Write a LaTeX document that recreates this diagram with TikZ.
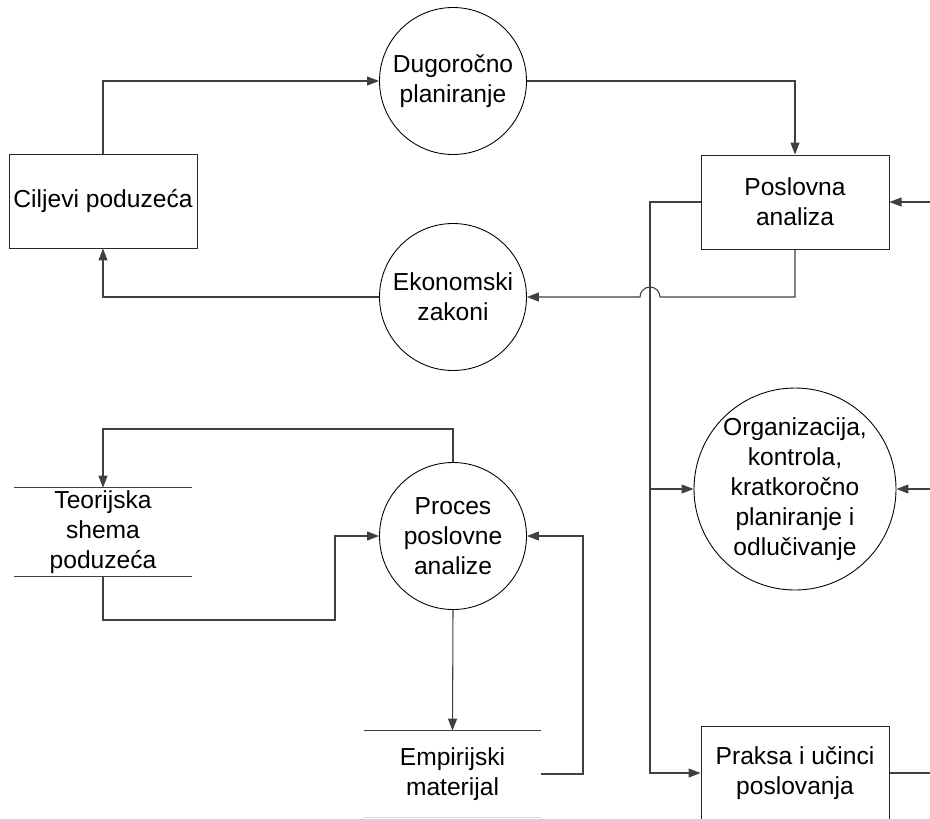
\documentclass[tikz,border=0pt]{standalone}
\usepackage{fontspec}
\setmainfont{Liberation Sans}
\usetikzlibrary{arrows.meta,positioning,calc}
\definecolor{linija}{RGB}{64,64,64}

\tikzset{
  tekst/.style={font=\fontsize{14}{17}\selectfont,align=center},
  krug/.style={tekst,circle,draw=black,line width=0.5pt,minimum size=2.94cm,inner sep=0pt},
  kutija/.style={tekst,rectangle,draw=black!85,line width=0.55pt,minimum width=3.76cm,minimum height=1.88cm,inner sep=2pt},
  spremiste/.style={tekst,minimum width=3.54cm,minimum height=1.76cm,inner sep=0pt},
  tok/.style={draw=linija,line width=0.6pt,-{Triangle[length=0.24cm,width=0.18cm]}},
  veza/.style={draw=linija,line width=0.6pt}
}

\begin{document}
\begin{tikzpicture}
        \useasboundingbox (0,0) rectangle (18.6,-16.36);
        \clip (0,0) rectangle (18.6,-16.36);

        % Entities
        \node[kutija] (ciljevi) at (2.06,-4.02) {Ciljevi poduzeća};
        \node[kutija] (poslovna) at (15.9,-4.04) {Poslovna\\analiza};
        \node[kutija] (praksa) at (15.9,-15.46) {Praksa i učinci\\poslovanja};

        % Processes
        \node[krug] (dugorocno) at (9.06,-1.62) {Dugoročno\\planiranje};
        \node[krug] (ekonomski) at (9.06,-5.94) {Ekonomski\\zakoni};
        \node[krug] (proces) at (9.06,-10.72) {Proces\\poslovne\\analize};
        \node[krug,minimum size=4.04cm] (organizacija) at (15.9,-9.78) {Organizacija,\\kontrola,\\kratkoročno\\planiranje i\\odlučivanje};

        % Data stores
        \node[spremiste] (teorija) at (2.06,-10.64) {Teorijska\\shema\\poduzeća};
        \node[spremiste,minimum height=1.72cm] (empirija) at (9.05,-15.48) {Empirijski\\materijal};
        \draw[veza] (teorija.north west) -- (teorija.north east);
        \draw[veza] (teorija.south west) -- (teorija.south east);
        \draw[veza] (empirija.north west) -- (empirija.north east);
        \draw[draw=black!15,line width=0.6pt] (empirija.south west) -- (empirija.south east);

        % Helper points
        \coordinate (sab) at (13,-4.04);
        \coordinate (desno) at (18.6,0);
        \coordinate (gore) at (0,-8.58);
        \coordinate (dolje) at (6.7,-12.4);
        \coordinate (uz) at (11.66,0);

        % Upper loop
        \draw[tok] (ciljevi.north) |- (dugorocno.west);
        \draw[tok] (dugorocno.east) -| (poslovna.north);
        \draw[tok] (poslovna.south) |- ($(sab|-ekonomski)+(0.2,0)$)
            arc[start angle=0,end angle=180,radius=0.2] -- (ekonomski.east);
        \draw[tok] (ekonomski.west) -| (ciljevi.south);

        % Right side
        \draw[tok] (desno|-poslovna) -- (poslovna.east);
        \draw[tok] (desno|-organizacija) -- (organizacija.east);
        \draw[veza] (praksa.east) -- (desno|-praksa);
        \draw[tok] (poslovna.west) -- (sab) |- (praksa.west);
        \draw[tok] (sab|-organizacija) -- (organizacija.west);

        % Lower loop
        \draw[tok] (proces.north) -- (proces.north|-gore) -| (teorija.north);
        \draw[tok] (teorija.south) |- (dolje) |- (proces.west);
        \draw[tok] (proces.south) -- (empirija.north);
        \draw[tok] (empirija.east) -| (uz|-empirija) |- (proces.east);
\end{tikzpicture}
\end{document}
